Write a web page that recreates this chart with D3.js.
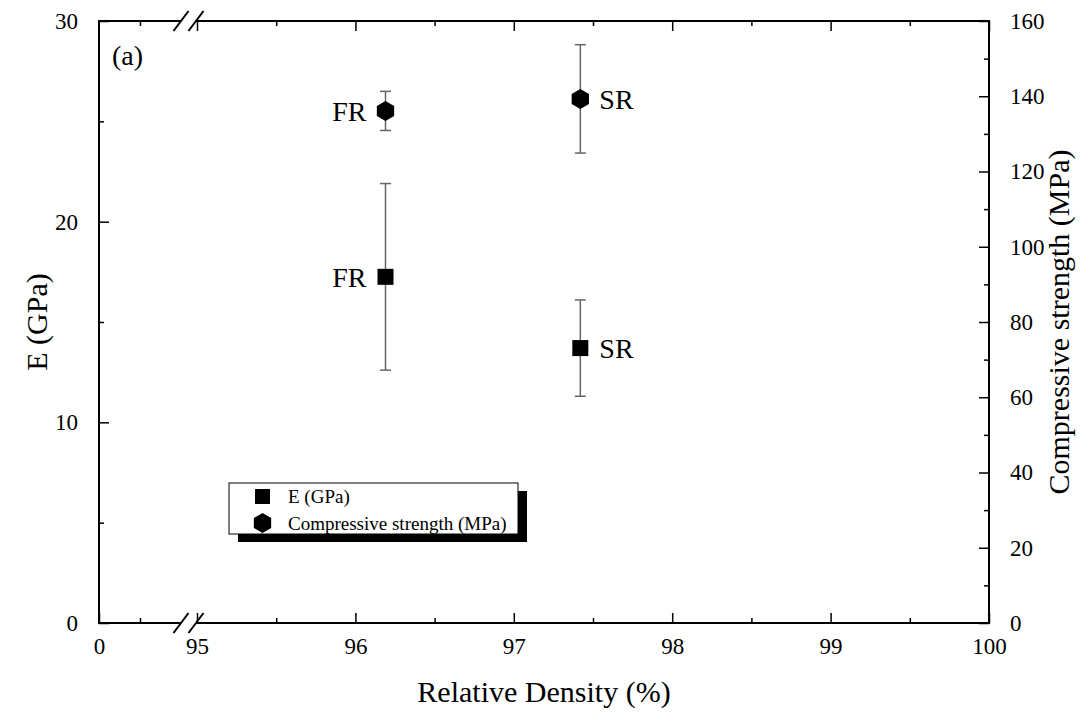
<!DOCTYPE html>
<html>
<head>
<meta charset="utf-8">
<script src="https://cdn.jsdelivr.net/npm/d3@7"></script>
<style>
  body { margin: 0; background: #fff; }
</style>
</head>
<body>
<div id="chart"></div>
<script>
// --- data ---
const samples = ["FR", "SR"];
const density = [96.19, 97.42];          // relative density (%)
const modulus = [17.25, 13.7];           // E (GPa)
const modulusErr = [4.65, 2.4];
const strength = [136.1, 139.3];         // compressive strength (MPa)
const strengthErr = [5.2, 14.4];

const xTicks = [95, 96, 97, 98, 99, 100];
const xMinor = [95.5, 96.5, 97.5, 98.5, 99.5];
const xLowTicks = [0];
const xLowMinor = [0.5];
const yLeftTicks = [0, 10, 20, 30];
const yLeftMinor = [5, 15, 25];
const yRightTicks = [0, 20, 40, 60, 80, 100, 120, 140, 160];
const yRightMinor = [10, 30, 50, 70, 90, 110, 130, 150];

// pick the first installed serif face (Times-like preferred)
function pickFont(cands) {
  const ctx = document.createElement("canvas").getContext("2d");
  const probe = "Compressive strength 0123456789 (MPa) WwIil";
  const w = f => { ctx.font = `40px ${f}`; return ctx.measureText(probe).width; };
  const mono = w("monospace"), sans = w("sans-serif");
  for (const c of cands) {
    if (w(`"${c}", monospace`) !== mono || w(`"${c}", sans-serif`) !== sans) return `"${c}", serif`;
  }
  return "serif";
}
const serif = pickFont(["Liberation Serif", "Times New Roman", "Tinos", "Nimbus Roman", "FreeSerif", "DejaVu Serif"]);

const width = 1091, height = 715;
const margin = { top: 21, right: 102, bottom: 92, left: 99 };
const x0 = margin.left, x1 = width - margin.right;
const y0 = height - margin.bottom, y1 = margin.top;
const breakA = 181, breakB = 196;

const svg = d3.select("#chart").append("svg")
  .attr("width", width).attr("height", height)
  .style("font-family", serif);

// --- scales (broken x axis: 0 | 95..100) ---
const xLow = d3.scaleLinear().domain([0, 1]).range([x0, breakA]);
const x = d3.scaleLinear().domain([95, 100]).range([197, x1]);
const yE = d3.scaleLinear().domain([0, 30]).range([y0, y1]);
const yS = d3.scaleLinear().domain([0, 160]).range([y0, y1]);

const major = 10, minor = 5;

function addAxis(gen, tr, size, pad, fmt) {
  const g = svg.append("g").attr("transform", tr)
    .call(gen.tickSizeInner(size).tickSizeOuter(0).tickPadding(pad).tickFormat(fmt));
  g.attr("font-family", null).attr("font-size", null);
  g.select(".domain").remove();
  g.selectAll(".tick line").attr("stroke", "#000").attr("stroke-width", 1.5);
  g.selectAll("text").attr("fill", "#000").style("font-family", serif).style("font-size", "23px");
  return g;
}

// bottom
addAxis(d3.axisBottom(x).tickValues(xTicks), `translate(0,${y0})`, -major, 15, d3.format("d"));
addAxis(d3.axisBottom(x).tickValues(xMinor), `translate(0,${y0})`, -minor, 0, "");
addAxis(d3.axisBottom(xLow).tickValues(xLowTicks), `translate(0,${y0})`, -major, 15, d3.format("d"));
addAxis(d3.axisBottom(xLow).tickValues(xLowMinor), `translate(0,${y0})`, -minor, 0, "");
// top
addAxis(d3.axisTop(x).tickValues(xTicks), `translate(0,${y1})`, -major, 0, "");
addAxis(d3.axisTop(x).tickValues(xMinor), `translate(0,${y1})`, -minor, 0, "");
addAxis(d3.axisTop(xLow).tickValues(xLowMinor), `translate(0,${y1})`, -minor, 0, "");
// left
addAxis(d3.axisLeft(yE).tickValues(yLeftTicks), `translate(${x0},0)`, -major, 21, d3.format("d"));
addAxis(d3.axisLeft(yE).tickValues(yLeftMinor), `translate(${x0},0)`, -minor, 0, "");
// right
addAxis(d3.axisRight(yS).tickValues(yRightTicks), `translate(${x1},0)`, -major, 21, d3.format("d"));
addAxis(d3.axisRight(yS).tickValues(yRightMinor), `translate(${x1},0)`, -minor, 0, "");

// frame with break on top and bottom
const frame = svg.append("g").attr("stroke", "#000").attr("stroke-width", 2).attr("fill", "none");
[y0, y1].forEach(yy => {
  frame.append("line").attr("x1", x0 - 1).attr("x2", breakA).attr("y1", yy).attr("y2", yy);
  frame.append("line").attr("x1", breakB).attr("x2", x1 + 1).attr("y1", yy).attr("y2", yy);
  [breakA, breakB].forEach(bx => {
    frame.append("line").attr("x1", bx - 7.5).attr("y1", yy + 10)
      .attr("x2", bx + 7.5).attr("y2", yy - 10);
  });
});
frame.append("line").attr("x1", x0).attr("x2", x0).attr("y1", y1).attr("y2", y0);
frame.append("line").attr("x1", x1).attr("x2", x1).attr("y1", y1).attr("y2", y0);

// --- axis titles ---
function label(sel, size) {
  return sel.style("font-family", serif).style("font-size", size + "px").attr("fill", "#000");
}
label(svg.append("text")
  .attr("x", (x0 + x1) / 2).attr("y", 702)
  .attr("text-anchor", "middle"), 30)
  .text("Relative Density (%)");
label(svg.append("text")
  .attr("transform", `translate(47,${(y0 + y1) / 2}) rotate(-90)`)
  .attr("text-anchor", "middle"), 30)
  .text("E (GPa)");
label(svg.append("text")
  .attr("transform", `translate(1069,${(y0 + y1) / 2}) rotate(-90)`)
  .attr("text-anchor", "middle"), 30)
  .text("Compressive strength (MPa)");
label(svg.append("text").attr("x", 112).attr("y", 65), 28).text("(a)");

// --- error bars + markers ---
const errColor = "#666";
const hex = d3.symbol().type({
  draw(ctx, size) {
    const r = Math.sqrt(size);
    for (let i = 0; i < 6; i++) {
      const a = Math.PI / 3 * i;
      const px = r * Math.sin(a), py = -r * Math.cos(a);
      i ? ctx.lineTo(px, py) : ctx.moveTo(px, py);
    }
    ctx.closePath();
  }
}).size(100);

function errBars(vals, errs, yScale) {
  const g = svg.append("g").attr("stroke", errColor).attr("stroke-width", 1.5);
  samples.forEach((s, i) => {
    const cx = x(density[i]);
    const top = yScale(vals[i] + errs[i]), bot = yScale(vals[i] - errs[i]);
    g.append("line").attr("x1", cx).attr("x2", cx).attr("y1", top).attr("y2", bot);
    g.append("line").attr("x1", cx - 5.5).attr("x2", cx + 5.5).attr("y1", top).attr("y2", top);
    g.append("line").attr("x1", cx - 5.5).attr("x2", cx + 5.5).attr("y1", bot).attr("y2", bot);
  });
}
errBars(modulus, modulusErr, yE);
errBars(strength, strengthErr, yS);

svg.append("g").selectAll("rect")
  .data(samples)
  .join("rect")
  .attr("x", (d, i) => x(density[i]) - 8)
  .attr("y", (d, i) => yE(modulus[i]) - 8)
  .attr("width", 16).attr("height", 16)
  .attr("fill", "#000");

svg.append("g").selectAll("path")
  .data(samples)
  .join("path")
  .attr("d", hex)
  .attr("transform", (d, i) => `translate(${x(density[i])},${yS(strength[i])})`)
  .attr("fill", "#000");

// point labels: FR on the left, SR on the right
function pointLabels(vals, yScale) {
  label(svg.append("g").selectAll("text")
    .data(samples)
    .join("text")
    .attr("x", (d, i) => x(density[i]) + (d === "FR" ? -19 : 19))
    .attr("y", (d, i) => yScale(vals[i]) + 10)
    .attr("text-anchor", d => d === "FR" ? "end" : "start"), 28)
    .text(d => d);
}
pointLabels(modulus, yE);
pointLabels(strength, yS);

// --- legend ---
const leg = svg.append("g").attr("transform", "translate(229,483)");
leg.append("rect").attr("x", 9).attr("y", 8).attr("width", 289).attr("height", 51).attr("fill", "#000");
leg.append("rect").attr("width", 289).attr("height", 51)
  .attr("fill", "#fff").attr("stroke", "#000").attr("stroke-width", 1);
const legItems = ["E (GPa)", "Compressive strength (MPa)"];
leg.append("rect").attr("x", 26).attr("y", 6).attr("width", 15).attr("height", 15).attr("fill", "#000");
leg.append("path").attr("d", hex).attr("transform", "translate(33.5,40)").attr("fill", "#000");
label(leg.selectAll("text.item")
  .data(legItems)
  .join("text")
  .attr("class", "item")
  .attr("x", 59)
  .attr("y", (d, i) => 20 + i * 27), 19)
  .text(d => d);
</script>
</body>
</html>
